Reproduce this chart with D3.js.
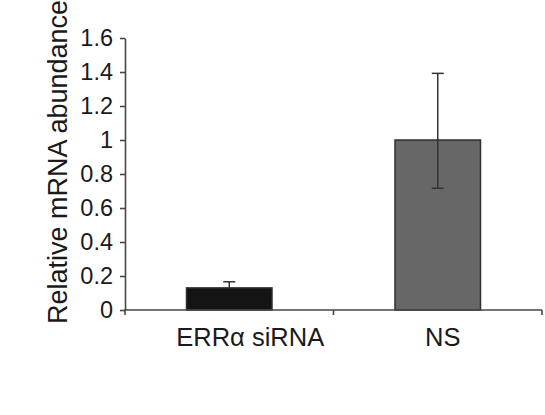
<!DOCTYPE html>
<html>
<head>
<meta charset="utf-8">
<script src="https://cdn.jsdelivr.net/npm/d3@7"></script>
<style>
  body { margin: 0; background: #fff; }
  text { font-family: Arial, "Liberation Sans", sans-serif; fill: #1a1a1a; }
</style>
</head>
<body>
<div id="chart"></div>
<script>
// data ------------------------------------------------------------------------------------------
const categories = ['ERRα siRNA', 'NS'];
const values = [0.13, 1.0];
const errLow = [0.13, 0.716];
const errHigh = [0.166, 1.392];
const barColors = ['#141414', '#676767'];
const yTicks = [0, 0.2, 0.4, 0.6, 0.8, 1, 1.2, 1.4, 1.6];

// layout ----------------------------------------------------------------------------------------
const width = 545;
const height = 415;
const margin = { top: 38, right: 3, bottom: 105, left: 125 };
const axisColor = '#474747';

const svg = d3.select('#chart')
    .append('svg')
    .attr('width', width)
    .attr('height', height);

const xScale = d3.scaleBand()
    .domain(categories)
    .range([margin.left, width - margin.right])
    .paddingInner(0.59)
    .paddingOuter(0.295);

const yScale = d3.scaleLinear()
    .domain([0, 1.6])
    .range([height - margin.bottom, margin.top]);

const y0 = yScale(0);

// bars
svg.append('g')
    .selectAll('rect')
    .data(categories)
    .join('rect')
    .attr('x', d => xScale(d))
    .attr('y', (d, i) => yScale(values[i]))
    .attr('width', xScale.bandwidth())
    .attr('height', (d, i) => y0 - yScale(values[i]))
    .attr('fill', (d, i) => barColors[i])
    .attr('stroke', '#2e2e2e')
    .attr('stroke-width', 1.5);

// error bars
const err = svg.append('g')
    .attr('stroke', '#333')
    .attr('stroke-width', 1.5);

categories.forEach((c, i) => {
    const cx = xScale(c) + xScale.bandwidth() / 2;
    err.append('line')
        .attr('x1', cx).attr('x2', cx)
        .attr('y1', yScale(errLow[i])).attr('y2', yScale(errHigh[i]));
    [errLow[i], errHigh[i]].forEach(v => {
        if (v === values[i]) return; // no whisker below when hidden in the bar
        err.append('line')
            .attr('x1', cx - 6).attr('x2', cx + 6)
            .attr('y1', yScale(v)).attr('y2', yScale(v));
    });
});

// y axis
const yAxis = svg.append('g')
    .attr('transform', `translate(${margin.left},0)`)
    .call(d3.axisLeft(yScale)
        .tickValues(yTicks)
        .tickFormat(d => String(+d.toFixed(1)))
        .tickSize(5)
        .tickSizeOuter(0)
        .tickPadding(7));

yAxis.selectAll('.domain, line')
    .attr('stroke', axisColor)
    .attr('stroke-width', 1.6);
yAxis.selectAll('text')
    .attr('font-size', '23.5px')
    .attr('font-family', 'Arial, "Liberation Sans", sans-serif')
    .attr('fill', '#1a1a1a');

// x axis: baseline and category boundary ticks
const step = xScale.step();
const boundaries = d3.range(categories.length + 1).map(i => margin.left + i * step);

svg.append('line')
    .attr('x1', margin.left - 1)
    .attr('x2', width - margin.right)
    .attr('y1', y0)
    .attr('y2', y0)
    .attr('stroke', axisColor)
    .attr('stroke-width', 1.6);

svg.append('g')
    .selectAll('line')
    .data(boundaries)
    .join('line')
    .attr('x1', d => d)
    .attr('x2', d => d)
    .attr('y1', y0)
    .attr('y2', y0 + 5)
    .attr('stroke', axisColor)
    .attr('stroke-width', 1.6);

// category labels
svg.append('g')
    .selectAll('text')
    .data(categories)
    .join('text')
    .attr('x', d => xScale(d) + xScale.bandwidth() / 2)
    .attr('dx', (d, i) => i === 0 ? 21 : 5)
    .attr('y', y0 + 36)
    .attr('text-anchor', 'middle')
    .attr('font-size', '25.5px')
    .text(d => d);

// y axis label
svg.append('text')
    .attr('transform', `translate(67,162) rotate(-90)`)
    .attr('text-anchor', 'middle')
    .attr('font-size', '27px')
    .text('Relative mRNA abundance');
</script>
</body>
</html>
